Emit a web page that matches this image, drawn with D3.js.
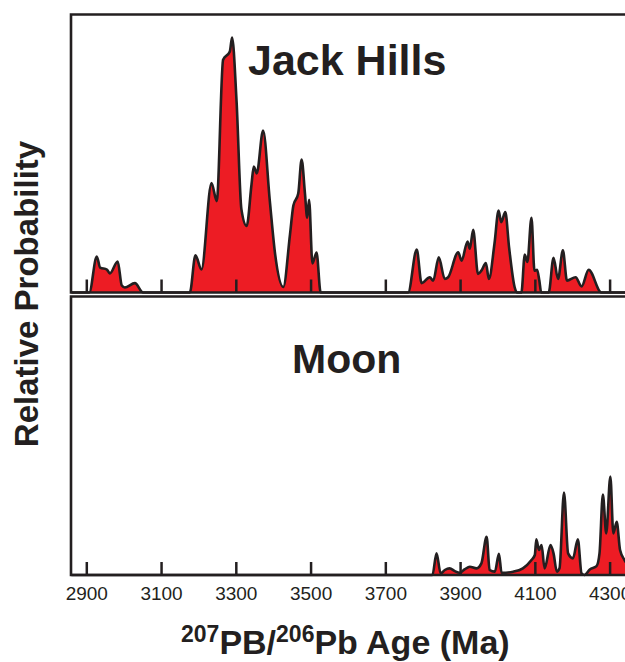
<!DOCTYPE html>
<html lang="en">
<head>
    <meta charset="UTF-8">
    <title>Jack Hills vs Moon</title>
    <script src="https://cdnjs.cloudflare.com/ajax/libs/d3/7.8.5/d3.min.js"></script>
    <style>
        body{margin:0; background:#fff;}
        svg{display:block;}
        text{font-family:"Liberation Sans", Arial, sans-serif; fill:#231f20;}
    </style>
</head>
<body>
    <svg id="chart" width="625" height="662"></svg>
    <script>
        // tick labels
        var ageTicks = [2900, 3100, 3300, 3500, 3700, 3900, 4100, 4300];

        // Jack Hills relative probability
        var jackAge  = [2860, 2908, 2928, 2937, 2955, 2963, 2984, 2995, 3003, 3030, 3052,
                        3177, 3192, 3208, 3235, 3249, 3266, 3284, 3290, 3302, 3315, 3329, 3342, 3348, 3356, 3373, 3391, 3405, 3427, 3445, 3454, 3467, 3476, 3485, 3491, 3496, 3505, 3516, 3527,
                        3761, 3784, 3797, 3819, 3828, 3843, 3859, 3868, 3895, 3904, 3920, 3926, 3935, 3948, 3957, 3969, 3977, 3992, 4003, 4010, 4021, 4031, 4046, 4052,
                        4064, 4073, 4080, 4091, 4099, 4106, 4112, 4117,
                        4137, 4150, 4162, 4175, 4186, 4209, 4225, 4244, 4278, 4400];
        var jackProb = [0, 0, 13, 9, 8.3, 6.9, 11.2, 2.5, 1.8, 3.4, 0,
                        0, 13.4, 8.3, 39.5, 33, 84, 87, 92, 69, 30, 24, 39, 45.5, 43, 58.5, 33, 14, 2, 21, 31.4, 35.7, 48, 35.7, 27, 33.5, 10.5, 14.4, 0,
                        0, 15.5, 3.4, 5.5, 4.3, 12.7, 4.9, 5.5, 14.5, 11.5, 18.4, 15.8, 22.6, 6.7, 7.9, 10.6, 4.9, 17.6, 29.6, 25.4, 29, 16.4, 1.9, 0,
                        0, 13.7, 11, 27, 7.9, 8.2, 4.3, 0,
                        0, 12.5, 4.9, 15.2, 4.3, 5.5, 2.2, 8.2, 0, 0];

        // Moon relative probability
        var moonAge  = [2860, 3826, 3837, 3848, 3859, 3872, 3886, 3899, 3912, 3926, 3944, 3957, 3971, 3979, 3993, 4004, 4011, 4042, 4068, 4091, 4100, 4104, 4111, 4118, 4126,
                        4142, 4150, 4159, 4166, 4178, 4189, 4202, 4215, 4225, 4233, 4247, 4265, 4273, 4282, 4291, 4302, 4310, 4319, 4328, 4340, 4352, 4365, 4400];
        var moonProb = [0, 0, 7.8, 0.6, 1.8, 2.4, 1.4, 0.8, 2, 3, 2.4, 4.2, 13.8, 1.8, 1.2, 7.6, 0.8, 1.2, 2.4, 5.4, 7.2, 12.9, 9, 10.8, 2.4,
                        10.8, 7.8, 1.2, 2.4, 29.7, 7.8, 6, 12.9, 0.6, 0, 2, 3.2, 7.8, 29, 15, 35.5, 15, 19.2, 9, 5.4, 3, 0, 0];

        var svg = d3.select("#chart");
        var ink = "#231f20";
        var red = "#ed1c24";

        var left = 71, right = 650;
        var topPanel = {top: 14.5, base: 292.5};
        var botPanel = {top: 296.5, base: 575};

        var xScale = d3.scaleLinear()
                       .domain([2900, 4300])
                       .range([86.3, 609.6]);

        function drawPanel(p, ages, probs, showLabels){
            var yScale = d3.scaleLinear()
                           .domain([0, 100])
                           .range([p.base, p.top + 1]);

            var pts = ages.map(function(a, i){ return [a, probs[i]]; });

            var area = d3.area()
                         .x(function(d){ return xScale(d[0]); })
                         .y0(p.base)
                         .y1(function(d){ return yScale(d[1]); })
                         .curve(d3.curveMonotoneX);
            var line = d3.line()
                         .x(function(d){ return xScale(d[0]); })
                         .y(function(d){ return yScale(d[1]); })
                         .curve(d3.curveMonotoneX);

            svg.append("path")
               .datum(pts)
               .attr("d", area)
               .attr("fill", red);

            // ticks pointing inward
            var axis = d3.axisBottom(xScale)
                         .tickValues(ageTicks)
                         .tickSizeInner(-13)
                         .tickSizeOuter(0)
                         .tickPadding(8)
                         .tickFormat(showLabels ? d3.format("d") : "");
            var g = svg.append("g")
                       .attr("transform", "translate(0," + p.base + ")")
                       .call(axis);
            g.select(".domain").remove();
            g.selectAll("line").attr("stroke", ink).attr("stroke-width", 2.5);
            g.selectAll("text")
             .attr("fill", ink)
             .style("font-family", "'Liberation Sans', Arial, sans-serif")
             .style("font-size", "19px")
             .attr("dy", "0.9em");

            svg.append("path")
               .datum(pts)
               .attr("d", line)
               .attr("fill", "none")
               .attr("stroke", ink)
               .attr("stroke-width", 2.6)
               .attr("stroke-linejoin", "round");

            // frame
            svg.append("path")
               .attr("d", "M" + right + "," + p.top + "H" + left + "V" + p.base + "H" + right)
               .attr("fill", "none")
               .attr("stroke", ink)
               .attr("stroke-width", 2.6);
        }

        drawPanel(topPanel, jackAge, jackProb, false);
        drawPanel(botPanel, moonAge, moonProb, true);

        svg.append("text")
           .attr("x", 248).attr("y", 75)
           .style("font-size", "43px").style("font-weight", "bold")
           .text("Jack Hills");

        svg.append("text")
           .attr("x", 292).attr("y", 373)
           .style("font-size", "41px").style("font-weight", "bold")
           .text("Moon");

        svg.append("text")
           .attr("transform", "translate(38,294) rotate(-90)")
           .attr("text-anchor", "middle")
           .style("font-size", "33px").style("font-weight", "bold")
           .text("Relative Probability");

        var xt = svg.append("text")
                    .attr("x", 181).attr("y", 654)
                    .style("font-size", "34px").style("font-weight", "bold");
        xt.append("tspan").style("font-size", "23px").attr("dy", "-12").text("207");
        xt.append("tspan").attr("dy", "12").text("PB/");
        xt.append("tspan").style("font-size", "23px").attr("dy", "-12").text("206");
        xt.append("tspan").attr("dy", "12").text("Pb Age (Ma)");
    </script>
</body>
</html>
